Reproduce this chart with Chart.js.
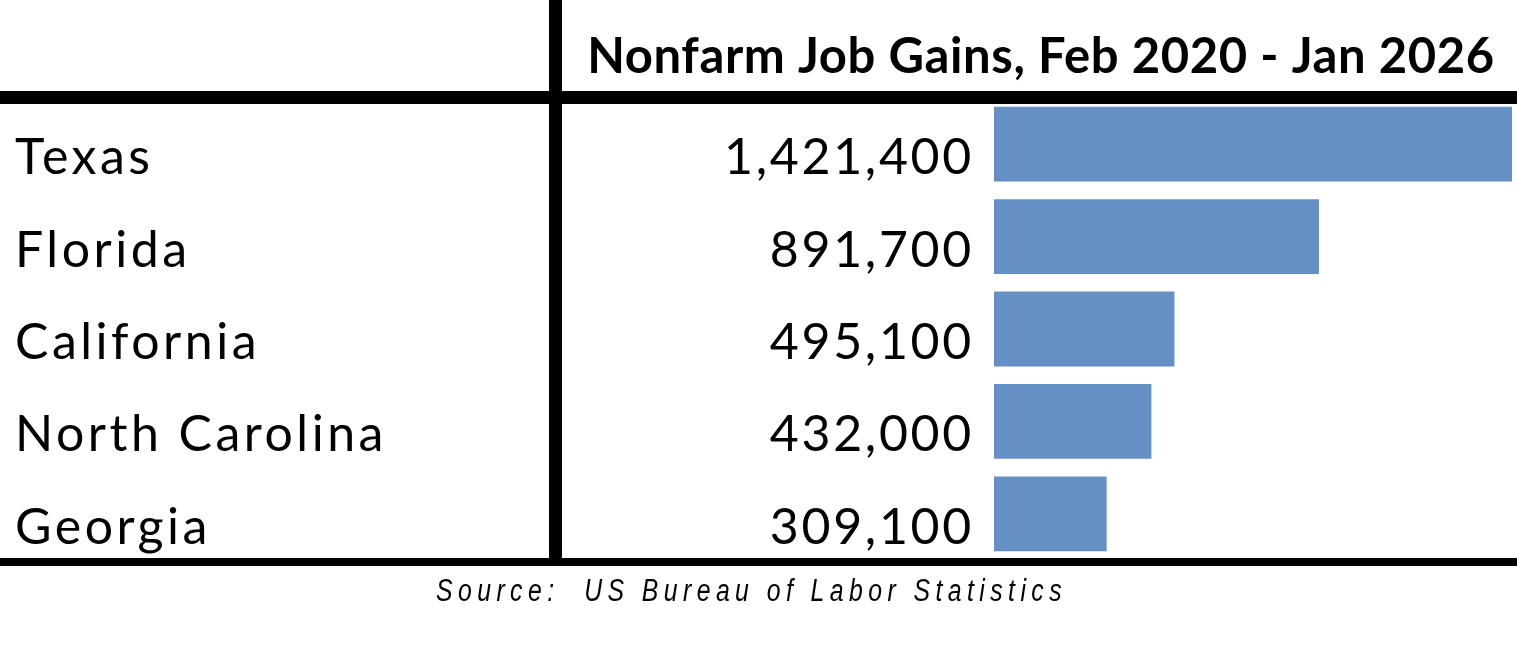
<!DOCTYPE html>
<html>
<head>
<meta charset="utf-8">
<script src="https://cdn.jsdelivr.net/npm/chart.js@4"></script>
<style>
  html, body { margin: 0; padding: 0; background: #ffffff; }
  #wrap { width: 1517px; height: 659px; }
</style>
</head>
<body>
<div id="wrap"><canvas id="c" width="1517" height="659"></canvas></div>
<script>
// ---- data ----
const states = ["Texas", "Florida", "California", "North Carolina", "Georgia"];
const jobGains = [1421400, 891700, 495100, 432000, 309100];
const titleText = "Nonfarm Job Gains, Feb 2020 - Jan 2026";
const sourceText = "Source:  US Bureau of Labor Statistics";

const fmt = v => v.toLocaleString("en-US");

const tablePlugin = {
  id: "tablePlugin",
  afterDraw(chart) {
    const ctx = chart.ctx;
    const y = chart.scales.y;
    ctx.save();
    ctx.fillStyle = "#000000";
    // table rules
    ctx.fillRect(549, 0, 13, 566);
    ctx.fillRect(0, 91, 1517, 13);
    ctx.fillRect(0, 558, 1517, 8);

    // title
    ctx.font = "bold 49px Lato";
    ctx.letterSpacing = "0.6px";
    ctx.textAlign = "center";
    ctx.textBaseline = "alphabetic";
    ctx.fillText(titleText, 1041, 73);

    // rows
    states.forEach((s, i) => {
      const cy = y.getPixelForValue(i);
      ctx.font = "50px Lato";
      ctx.letterSpacing = "3.5px";
      ctx.textAlign = "left";
      ctx.fillText(s, 15, cy + 30);
      ctx.letterSpacing = "2.7px";
      ctx.textAlign = "right";
      ctx.fillText(fmt(jobGains[i]), 974, cy + 30);
    });

    // source: condensed italic (horizontally squeezed), spread to reference width
    const sx = 0.8;
    ctx.font = "italic 31px 'Liberation Sans'";
    ctx.letterSpacing = "0px";
    const w0 = ctx.measureText(sourceText).width * sx;
    const sp = Math.max(0, (631 - w0) / sourceText.length) / sx;
    ctx.letterSpacing = sp.toFixed(2) + "px";
    ctx.textAlign = "left";
    ctx.translate(436, 601);
    ctx.scale(sx, 1);
    ctx.fillText(sourceText, 0, 0);
    ctx.restore();
  }
};

new Chart(document.getElementById("c"), {
  type: "bar",
  data: {
    labels: states,
    datasets: [{
      data: jobGains,
      backgroundColor: "#6590C6",
      borderWidth: 0,
      barPercentage: 0.81,
      categoryPercentage: 1.0
    }]
  },
  options: {
    indexAxis: "y",
    responsive: false,
    animation: false,
    layout: { padding: { left: 994, right: 5, top: 98, bottom: 99 } },
    scales: {
      x: { display: false, min: 0, max: Math.max(...jobGains) },
      y: { display: false }
    },
    plugins: { legend: { display: false }, tooltip: { enabled: false } }
  },
  plugins: [tablePlugin]
});
</script>
</body>
</html>
